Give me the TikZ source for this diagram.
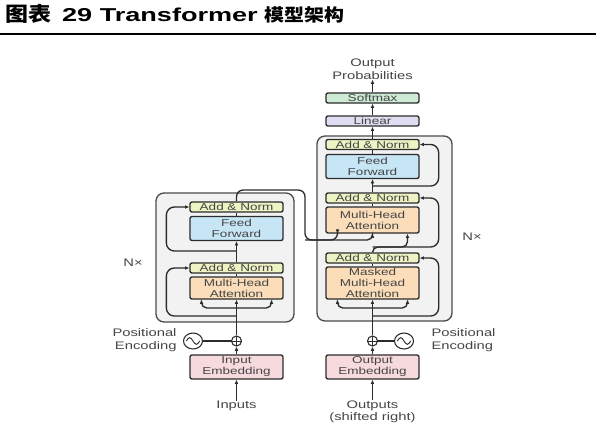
\documentclass[tikz,border=0pt]{standalone}
\usepackage{fontspec}
\setmainfont{Liberation Sans}
\newfontfamily\boxfont[FakeStretch=1.35]{Liberation Sans}
\newfontfamily\titlefont[FakeStretch=1.45]{Liberation Sans}
\newfontfamily\cjkfont[FakeStretch=1.15]{Noto Sans CJK SC}
\usetikzlibrary{arrows.meta,calc,shapes.geometric}

\definecolor{linec}{HTML}{2B2B2B}
\definecolor{textc}{HTML}{454545}
\definecolor{blockc}{HTML}{F2F2F2}
\definecolor{normc}{HTML}{EEF3C4}
\definecolor{ffc}{HTML}{C6E5F5}
\definecolor{attc}{HTML}{FBDDB9}
\definecolor{linc}{HTML}{DEDDF1}
\definecolor{softc}{HTML}{CDEAD4}
\definecolor{embc}{HTML}{F7DADD}

\tikzset{every picture/.style={line width=0.75pt}}
\tikzset{
  blk/.style={draw=linec, line width=1pt, rounded corners=1.5pt, minimum width=69.75pt, inner sep=0pt, align=center, text=textc, font=\boxfont\fontsize{7.5}{8.2}\selectfont},
  normbox/.style={blk, fill=normc, minimum height=7.5pt},
  ffbox/.style={blk, fill=ffc, minimum height=18pt},
  attbox/.style={blk, fill=attc, minimum height=16.5pt},
  linbox/.style={blk, fill=linc, minimum height=7.5pt},
  softbox/.style={blk, fill=softc, minimum height=7.5pt},
  embbox/.style={blk, fill=embc, minimum height=18pt},
  outer/.style={draw=linec!85, line width=1pt, fill=blockc, rounded corners=6pt, inner sep=0pt},
  lab/.style={text=textc, font=\boxfont\fontsize{8.2}{9.4}\selectfont, inner sep=0pt, align=center},
  arr/.style={-{Latex[length=3.2pt,width=2.8pt]}, draw=linec, line width=1pt},
  con/.style={draw=linec, line width=1pt},
  addc/.style={circle, draw=linec, line width=0.8pt, minimum size=7.5pt, inner sep=0pt,
    path picture={\draw[line width=0.7pt] (path picture bounding box.north) -- (path picture bounding box.south)
      (path picture bounding box.west) -- (path picture bounding box.east);}},
  sinec/.style={ellipse, draw=linec, line width=0.8pt, minimum width=14.25pt, minimum height=12pt, inner sep=0pt,
    path picture={\draw[line width=0.7pt] ($(path picture bounding box.center)+(-5pt,0pt)$) sin ++(2.5pt,2.5pt) cos ++(2.5pt,-2.5pt) sin ++(2.5pt,-2.5pt) cos ++(2.5pt,2.5pt);}},
}

\begin{document}
\begin{tikzpicture}[x=0.75pt,y=0.75pt,yscale=-1,xscale=1]
        \useasboundingbox (0,0) rectangle (596,443);

        % title
        \node[anchor=west, inner sep=0pt] (title) at (5,14) {{\cjkfont\bfseries\fontsize{15}{16}\selectfont 图表}\hspace{8pt}{\titlefont\bfseries\fontsize{14}{16}\selectfont 29 Transformer}\hspace{5pt}{\cjkfont\bfseries\fontsize{13}{16}\selectfont 模型架构}};
        \draw[line width=1.5pt] (0,34) -- (596,34);

        % encoder
        \node[outer, minimum width=103.5pt, minimum height=96.75pt] (enc) at (225,257.5) {};
        \node[normbox] (eAN2) at (236.5,207) {Add \& Norm};
        \node[ffbox] (eFF) at (236.5,228.5) {Feed\\Forward};
        \node[normbox] (eAN1) at (236.5,268) {Add \& Norm};
        \node[attbox] (eMHA) at (236.5,288) {Multi-Head\\Attention};
        \node[embbox] (eEmb) at (236.5,367) {Input\\Embedding};
        \node[addc] (ePlus) at (236.5,341) {};
        \node[sinec] (eSin) at (193,341) {};
        \node[lab, align=right, anchor=east] (ePos) at (177,340) {Positional\\Encoding};
        \node[lab] (eIn) at (236.5,406) {Inputs};
        \node[lab] (eN) at (133,263) {N×};

        \coordinate (eBr) at (236.5,308);
        \coordinate (eRes1) at (236.5,316);
        \coordinate (eRes2) at (236.5,251);
        \coordinate (eOut) at (305,190);
        \coordinate (eDrop) at (305,240);

        \draw[arr] (eIn) -- (eEmb);
        \draw[arr] (eEmb) -- (ePlus);
        \draw[con] (eSin) -- (ePlus);
        \draw[con] (ePlus) -- (eBr);
        \draw[arr] (eBr) -- (eMHA);
        \draw[arr, rounded corners=4pt] (eBr) -| ($(eMHA.south)+(-35,0)$);
        \draw[arr, rounded corners=4pt] (eBr) -| ($(eMHA.south)+(35,0)$);
        \draw[arr, rounded corners=6pt] (eRes1) -| ($(eAN1.west)+(-23,0)$) -- (eAN1.west);
        \draw[con] (eMHA) -- (eAN1);
        \draw[arr] (eAN1) -- (eFF);
        \draw[arr, rounded corners=6pt] (eRes2) -| ($(eAN2.west)+(-23,0)$) -- (eAN2.west);
        \draw[con] (eFF) -- (eAN2);

        % decoder
        \node[outer, minimum width=101.25pt, minimum height=138.75pt] (dec) at (384.5,228.5) {};
        \node[lab] (dProb) at (372.5,69) {Output\\Probabilities};
        \node[softbox] (dSoft) at (372.5,98) {Softmax};
        \node[linbox] (dLin) at (372.5,121) {Linear};
        \node[normbox] (dAN3) at (372.5,144.5) {Add \& Norm};
        \node[ffbox] (dFF) at (372.5,166.5) {Feed\\Forward};
        \node[normbox] (dAN2) at (372.5,198) {Add \& Norm};
        \node[attbox, minimum height=19.5pt] (dMHA) at (372.5,220) {Multi-Head\\Attention};
        \node[normbox] (dAN1) at (372.5,258) {Add \& Norm};
        \node[attbox, minimum height=24pt] (dMMHA) at (372.5,283) {Masked\\Multi-Head\\Attention};
        \node[embbox] (dEmb) at (372.5,367) {Output\\Embedding};
        \node[addc] (dPlus) at (372.5,341) {};
        \node[sinec] (dSin) at (404,341) {};
        \node[lab, align=left, anchor=west] (dPos) at (431,340) {Positional\\Encoding};
        \node[lab] (dOut) at (372.5,412) {Outputs\\(shifted right)};
        \node[lab] (dN) at (472,237) {N×};

        \coordinate (dBr) at (372.5,308);
        \coordinate (dRes1) at (372.5,316);
        \coordinate (dMid) at (372.5,247);
        \coordinate (dRes3) at (372.5,186);

        \draw[arr] (dOut) -- (dEmb);
        \draw[arr] (dEmb) -- (dPlus);
        \draw[con] (dSin) -- (dPlus);
        \draw[con] (dPlus) -- (dBr);
        \draw[arr] (dBr) -- (dMMHA);
        \draw[arr, rounded corners=4pt] (dBr) -| ($(dMMHA.south)+(-35,0)$);
        \draw[arr, rounded corners=4pt] (dBr) -| ($(dMMHA.south)+(35,0)$);
        \draw[arr, rounded corners=6pt] (dRes1) -| ($(dAN1.east)+(19,0)$) -- (dAN1.east);
        \draw[con] (dMMHA) -- (dAN1);
        \draw[arr, rounded corners=4pt] (dAN1.north) -- (dMid) -| ($(dMHA.south)+(35,0)$);
        \draw[arr, rounded corners=6pt] (dMid) -| ($(dAN2.east)+(19,0)$) -- (dAN2.east);
        \draw[con] (dMHA) -- (dAN2);
        \draw[arr] (dAN2) -- (dFF);
        \draw[arr, rounded corners=6pt] (dRes3) -| ($(dAN3.east)+(19,0)$) -- (dAN3.east);
        \draw[con] (dFF) -- (dAN3);
        \draw[arr] (dAN3) -- (dLin);
        \draw[arr] (dLin) -- (dSoft);
        \draw[arr] (dSoft) -- (dProb);

        % encoder output into decoder
        \draw[arr, rounded corners=5pt] (eAN2.north) |- (eOut) -- (eDrop) -| ($(dMHA.south)+(-35,0)$);
        \draw[arr, rounded corners=4pt] (eDrop) -| (dMHA.south);
    \end{tikzpicture}
\end{document}
